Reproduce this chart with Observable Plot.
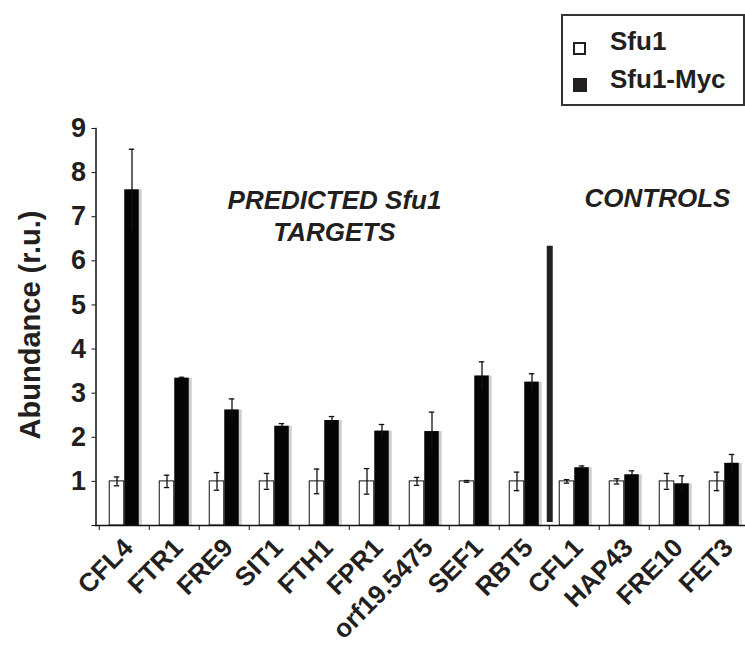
<!DOCTYPE html>
<html><head><meta charset="utf-8">
<script src="https://cdn.jsdelivr.net/npm/d3@7"></script>
<script src="https://cdn.jsdelivr.net/npm/@observablehq/plot@0.6"></script>
<style>
html,body{margin:0;padding:0;background:#fff;overflow:hidden}
#wrap{position:relative;width:745px;height:662px;font-family:"Liberation Sans",Arial,sans-serif}
#legend{position:absolute;left:561px;top:14px;width:180px;height:88px;border:2px solid #333;box-sizing:content-box;background:#fff}
.item{position:absolute;left:0;font-weight:bold;font-size:26px;color:#231f20;white-space:nowrap}
.sw{position:absolute;left:10px;width:12px;height:12px;box-sizing:border-box}
.lab{position:absolute;left:47px}
</style></head><body><div id="wrap"><div id="legend"></div></div>
<script>
const genes = ["CFL4","FTR1","FRE9","SIT1","FTH1","FPR1","orf19.5475","SEF1","RBT5","CFL1","HAP43","FRE10","FET3"];
const sfu1 = [1,1,1,1,1,1,1,1,1,1,1,1,1];
const sfu1Err = [0.1,0.14,0.2,0.18,0.28,0.29,0.09,0.02,0.21,0.04,0.06,0.18,0.21];
const myc = [7.61,3.34,2.62,2.25,2.38,2.14,2.13,3.39,3.25,1.31,1.15,0.945,1.41];
const mycErr = [0.92,0.02,0.25,0.06,0.09,0.15,0.44,0.32,0.19,0.04,0.09,0.18,0.2];
const seriesNames = ["Sfu1","Sfu1-Myc"];
const yTicks = [0,1,2,3,4,5,6,7,8,9];
const yLabel = "Abundance (r.u.)";
const groupLabels = [{text:"PREDICTED Sfu1\nTARGETS", gene:"FTH1", value:7.05},{text:"CONTROLS", gene:"FRE10", value:7.41}];
const divider = [{after:"RBT5", top:6.33, bottom:0.07}];

const rows = genes.map((g,i)=>({gene:g, s:sfu1[i], se:sfu1Err[i], m:myc[i], me:mycErr[i]}));
const font = "Liberation Sans";
const half = 25.25;

const chart = Plot.plot({
  width:745, height:662,
  marginLeft:95.5, marginRight:0, marginTop:128, marginBottom:137,
  style:{fontFamily:'"Liberation Sans", Arial, sans-serif', background:"white", color:"#231f20"},
  x:{type:"band", domain:genes, range:[95.7,752], padding:0, axis:null},
  y:{domain:[0,9], range:[525,128], axis:null},
  marks:[
    Plot.barY(rows,{x:"gene", y:"m", fill:"#cfcfcf", insetLeft:half+3, insetRight:half-18}),
    Plot.barY(rows,{x:"gene", y:"s", fill:"white", stroke:"#111", strokeWidth:1, insetLeft:half-15, insetRight:half}),
    Plot.barY(rows,{x:"gene", y:"m", fill:"#050505", insetLeft:half, insetRight:half-15}),
    Plot.ruleX(rows,{x:"gene", y1:d=>d.s-d.se, y2:d=>d.s+d.se, dx:-7.5, stroke:"#111", strokeWidth:1.3}),
    Plot.tickY(rows,{x:"gene", y:d=>d.s+d.se, insetLeft:half-10.5, insetRight:half+4.5, stroke:"#111", strokeWidth:1.3}),
    Plot.tickY(rows,{x:"gene", y:d=>d.s-d.se, insetLeft:half-10.5, insetRight:half+4.5, stroke:"#111", strokeWidth:1.3}),
    Plot.ruleX(rows,{x:"gene", y1:d=>d.m-d.me, y2:d=>d.m+d.me, dx:7.5, stroke:"#111", strokeWidth:1.3}),
    Plot.tickY(rows,{x:"gene", y:d=>d.m+d.me, insetLeft:half+4.5, insetRight:half-10.5, stroke:"#111", strokeWidth:1.3}),
    Plot.ruleX(divider,{x:"after", y1:"bottom", y2:"top", dx:half, stroke:"#231f20", strokeWidth:6}),
    Plot.frame({anchor:"left", stroke:"#111", strokeWidth:1.5}),
    Plot.frame({anchor:"bottom", stroke:"#111", strokeWidth:1.5}),
    Plot.axisY({ticks:yTicks, tickSize:4, tickPadding:6, tickFormat:d=>d===0?"":d, fontFamily:font, fontSize:27, fontWeight:"bold", label:null, stroke:"#111"}),
    Plot.axisX({tickSize:5, tickFormat:()=>"", dx:-half, label:null, stroke:"#111"}),
    Plot.text(genes,{x:d=>d, y:()=>0, text:d=>d, rotate:-45, textAnchor:"end", dx:4, dy:18, fontFamily:font, fontSize:26, fontWeight:"bold", fill:"#231f20"}),
    Plot.text([yLabel],{frameAnchor:"left", text:d=>d, rotate:-90, textAnchor:"middle", dx:-65, dy:-2, fontFamily:font, fontSize:29, fontWeight:"bold", fill:"#231f20"}),
    Plot.text(groupLabels.slice(0,1),{x:"gene", y:"value", text:"text", dx:10, lineHeight:1.23, fontFamily:font, fontSize:26, fontWeight:"bold", fontStyle:"italic", fill:"#231f20"}),
    Plot.text(groupLabels.slice(1),{x:"gene", y:"value", text:"text", dx:-17, fontFamily:font, fontSize:26, fontWeight:"bold", fontStyle:"italic", fill:"#231f20"})
  ]
});
document.getElementById("wrap").appendChild(chart);

const legend = document.getElementById("legend");
const swStyles = [{bg:"white", border:"2px solid #231f20"},{bg:"#231f20", border:"none"}];
seriesNames.forEach((name,i)=>{
  const it = document.createElement("div");
  it.className = "item";
  it.style.top = (i===0 ? 10 : 48) + "px";
  const sw = document.createElement("div");
  sw.className = "sw";
  sw.style.top = (i===0 ? 16 : 14) + "px";
  sw.style.width = sw.style.height = (i===0 ? 13 : 14) + "px";
  sw.style.background = swStyles[i].bg;
  sw.style.border = swStyles[i].border;
  const lab = document.createElement("span");
  lab.className = "lab";
  lab.textContent = name;
  it.appendChild(sw); it.appendChild(lab);
  legend.appendChild(it);
});
</script></body></html>
